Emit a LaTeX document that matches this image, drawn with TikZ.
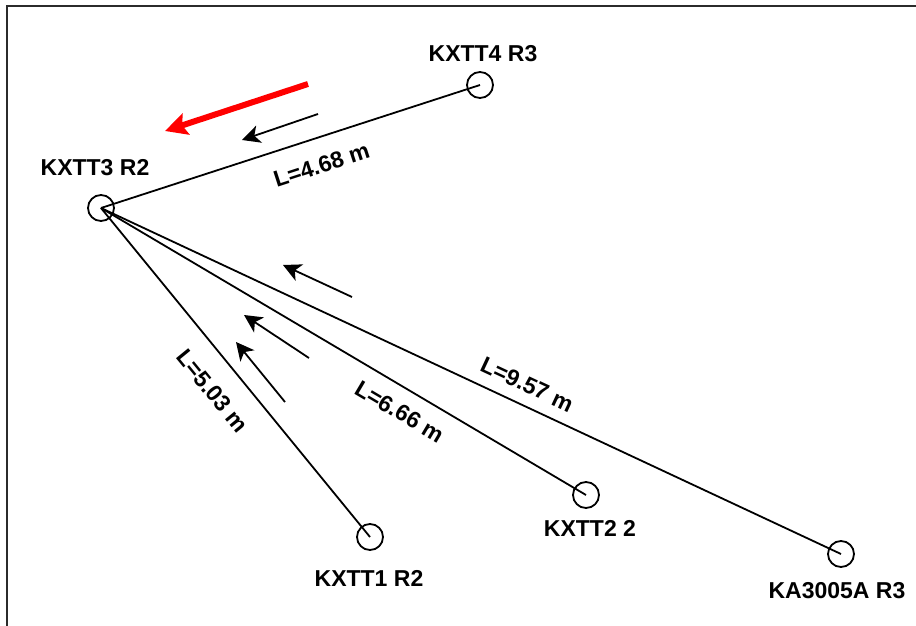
\documentclass[tikz,border=0pt]{standalone}
\usepackage{fontspec}
\setmainfont{Liberation Sans}
\usetikzlibrary{arrows.meta}

\definecolor{framegray}{HTML}{2B2B2B}
\definecolor{flowred}{HTML}{FF0000}

\begin{document}
\begin{tikzpicture}[x=1pt,y=-1pt]
\tikzset{
  stn/.style={draw,circle,minimum size=26pt,inner sep=0pt,line width=1.8pt},
  lbl/.style={inner sep=0pt,font=\fontsize{23}{27}\selectfont\bfseries},
  pipe/.style={line width=1.8pt},
  flow/.style={line width=1.8pt,-{Stealth[length=18pt,width=18pt,inset=5pt]}},
  mainflow/.style={flowred,line width=6pt,-{Stealth[length=22pt,width=22pt,inset=4pt]}}
}
\useasboundingbox (0,0) rectangle (916,626);
% frame (cut at right and bottom)
\draw [framegray,line width=2.4pt] (7.2,626) -- (7.2,6.2) -- (916,6.2);
% stations
\node[stn] (k3) at (101,208) {};
\node[stn] (k4) at (480,85) {};
\node[stn] (k1) at (370,537) {};
\node[stn] (k2) at (586,495) {};
\node[stn] (ka) at (841,554) {};
\node[lbl] (k3t) at (95,168) {KXTT3 R2};
\node[lbl] (k4t) at (483,54) {KXTT4 R3};
\node[lbl] (k1t) at (369,578) {KXTT1 R2};
\node[lbl] (k2t) at (590,528) {KXTT2 2};
\node[lbl] (kat) at (837,591) {KA3005A R3};
% connections
\draw [pipe] (k3.center) -- node[lbl,sloped,below,pos=.56,inner sep=18pt] {L=4.68 m} (k4.center);
\draw [pipe] (k3.center) -- node[lbl,sloped,below,pos=.5,inner sep=20.5pt] {L=5.03 m} (k1.center);
\draw [pipe] (k3.center) -- node[lbl,sloped,below,pos=.64,inner sep=14pt] {L=6.66 m} (k2.center);
\draw [pipe] (k3.center) -- node[lbl,sloped,above,pos=.564,inner sep=11.5pt] {L=9.57 m} (ka.center);
% flow arrows
\coordinate (r0) at (308,84);
\coordinate (r1) at (165,131);
\draw [mainflow] (r0) -- (r1);
\coordinate (a0) at (318,114);
\coordinate (a1) at (242,140);
\draw [flow] (a0) -- (a1);
\coordinate (b0) at (352,297);
\coordinate (b1) at (283,265);
\draw [flow] (b0) -- (b1);
\coordinate (c0) at (309,358);
\coordinate (c1) at (244,315);
\draw [flow] (c0) -- (c1);
\coordinate (d0) at (285,402);
\coordinate (d1) at (236,342);
\draw [flow] (d0) -- (d1);
\end{tikzpicture}
\end{document}
